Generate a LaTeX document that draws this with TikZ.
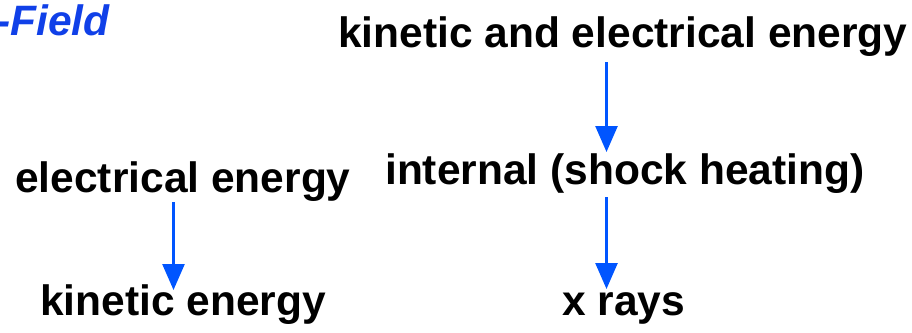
\documentclass[tikz,border=0pt]{standalone}
\usepackage{fontspec}
\setmainfont{Liberation Sans}
\usetikzlibrary{arrows.meta}
\definecolor{flowblue}{RGB}{0,85,255}
\definecolor{titleblue}{RGB}{16,64,232}
\begin{document}
\begin{tikzpicture}[x=1pt,y=-1pt,
  label/.style={anchor=base west,inner sep=0pt,font=\fontsize{42.5}{50}\selectfont\bfseries},
  flow/.style={draw=flowblue,line width=2.6pt,-{Triangle[length=26pt,width=22pt]}}]
  \useasboundingbox (0,0) rectangle (912,332);
  % heading, running off the left edge
  \node[label,text=titleblue,font=\fontsize{42.5}{50}\selectfont\bfseries\itshape] (field) at (-4,35) {-Field};
  % left chain
  \node[label] (elec) at (15,192) {electrical energy};
  \node[label] (kin) at (40,315) {kinetic energy};
  % right chain
  \node[label] (kinelec) at (338,47) {kinetic and electrical energy};
  \node[label] (internal) at (385,184) {internal (shock heating)};
  \node[label] (xrays) at (562,315) {x rays};
  % arrow end points
  \coordinate (a1s) at (173.5,202);
  \coordinate (a1e) at (173.5,290);
  \coordinate (a2s) at (606.5,62);
  \coordinate (a2e) at (606.5,152);
  \coordinate (a3s) at (606.5,197);
  \coordinate (a3e) at (606.5,289);
  \draw[flow] (a1s) -- (a1e);
  \draw[flow] (a2s) -- (a2e);
  \draw[flow] (a3s) -- (a3e);
\end{tikzpicture}
\end{document}
